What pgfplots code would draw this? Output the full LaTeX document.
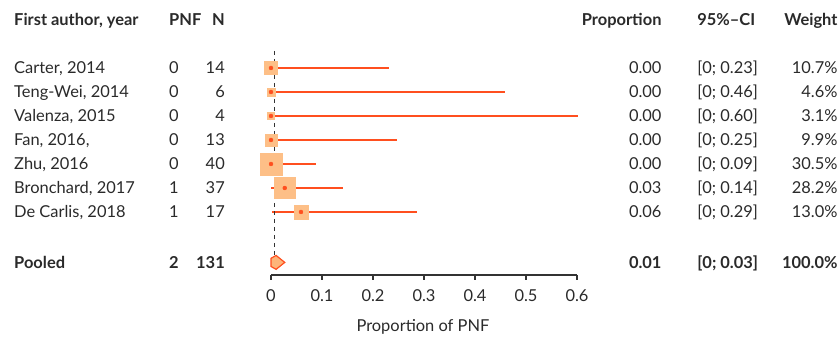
\documentclass[border=0pt]{standalone}
\usepackage{fontspec}
\setmainfont{Lato}
\usepackage{pgfplots}
\usepackage{pgfplotstable}
\pgfplotsset{compat=1.18}
\definecolor{lineclr}{HTML}{FF4F1F}
\definecolor{sqfill}{HTML}{FDBF87}
\definecolor{dmfill}{HTML}{FDB57A}
\definecolor{txt}{HTML}{2A2A2A}
\pgfplotstableread{
y est em ep s
-1 0 0 0.2316 6.5
-2 0 0 0.4593 4.27
-3 0 0 0.6024 3.5
-4 0 0 0.2471 6.27
-5 0 0 0.0881 11
-6 0.027 0.0263 0.1147 10.58
-7 0.0588 0.0573 0.2281 7.18
}\data
\newcommand\fs{\fontsize{16.5}{20}\selectfont}
\newcommand\rowtext[8]{%
  \node[anchor=base west] at (axis cs:-0.5039,#1) {#2#3};
  \node[anchor=base west] at (axis cs:-0.2,#1) {#2#4};
  \node[anchor=base east] at (axis cs:-0.0902,#1) {#2#5};
  \node[anchor=base east] at (axis cs:0.7661,#1) {#2#6};
  \node[anchor=base west] at (axis cs:0.8355,#1) {#2#7};
  \node[anchor=base east] at (axis cs:1.1112,#1) {#2#8};
}
\begin{document}
\begin{tikzpicture}[every node/.style={text=txt, font=\fs, inner sep=0pt}]
\begin{axis}[
  scale only axis, width=306bp, height=275bp,
  xmin=0, xmax=0.6, ymin=-9.625, ymax=1.833,
  clip=false,
  axis x line*=bottom, axis y line=none,
  axis line style={line width=1.2pt, color=black!80},
  xtick={0,0.1,...,0.6},
  tick align=outside, major tick length=5bp,
  xtick style={line width=1.2pt, color=black!80},
  /pgf/number format/assume math mode=true,
  xticklabel style={font=\fs, text=txt, anchor=base, yshift=-22bp},
  ytick=\empty,
  est/.style={color=lineclr, line width=1.3pt, no marks},
]
% squares
\addplot[scatter, only marks, mark=square*,
  scatter/use mapped color={draw=sqfill, fill=sqfill},
  visualization depends on={\thisrow{s} \as \ms},
  scatter/@pre marker code/.append style={/tikz/mark size=\ms}]
  table[x=est, y=y] {\data};
% CIs
\addplot[color=lineclr, only marks, mark=none,
  error bars/.cd, x dir=both, x explicit, error mark=none,
  error bar style={color=lineclr, line width=1.3pt}]
  table[x=est, y=y, x error minus=em, x error plus=ep] {\data};
% point estimates
\addplot[est] coordinates {(0,-1.18) (0,-0.82)};
\addplot[est] coordinates {(0,-2.18) (0,-1.82)};
\addplot[est] coordinates {(0,-3.18) (0,-2.82)};
\addplot[est] coordinates {(0,-4.18) (0,-3.82)};
\addplot[est] coordinates {(0,-5.18) (0,-4.82)};
\addplot[est] coordinates {(0.027,-6.18) (0.027,-5.82)};
\addplot[est] coordinates {(0.0588,-7.18) (0.0588,-6.82)};
% reference line
\addplot[dashed, black!80, line width=0.9pt, dash pattern=on 4bp off 4bp] coordinates {(0.006,-0.29) (0.006,-8.83)};
% pooled diamond
\addplot[draw=lineclr, fill=dmfill, line width=1.2pt] coordinates {(0,-8.93) (0.01,-8.81) (0.027,-9.1) (0.01,-9.39) (0,-9.27)} -- cycle;

% header
\rowtext{0.79}{\bfseries}{First author, year}{PNF}{N}{Proportion}{95\%--CI}{Weight}
\rowtext{-1.25}{}{Carter, 2014}{0}{14}{0.00}{[0; 0.23]}{10.7\%}
\rowtext{-2.25}{}{Teng-Wei, 2014}{0}{6}{0.00}{[0; 0.46]}{4.6\%}
\rowtext{-3.25}{}{Valenza, 2015}{0}{4}{0.00}{[0; 0.60]}{3.1\%}
\rowtext{-4.25}{}{Fan, 2016,}{0}{13}{0.00}{[0; 0.25]}{9.9\%}
\rowtext{-5.25}{}{Zhu, 2016}{0}{40}{0.00}{[0; 0.09]}{30.5\%}
\rowtext{-6.25}{}{Bronchard, 2017}{1}{37}{0.03}{[0; 0.14]}{28.2\%}
\rowtext{-7.25}{}{De Carlis, 2018}{1}{17}{0.06}{[0; 0.29]}{13.0\%}
\rowtext{-9.35}{\bfseries}{Pooled}{2}{131}{0.01}{[0; 0.03]}{100.0\%}
% x label
\node[anchor=base] at (axis cs:0.298,-11.96) {Proportion of PNF};
\coordinate (bl) at (axis cs:-0.5314,-12.208);
\coordinate (tr) at (axis cs:1.1157,1.833);
\end{axis}
\pgfresetboundingbox
\path (bl) rectangle (tr);
\end{tikzpicture}
\end{document}
